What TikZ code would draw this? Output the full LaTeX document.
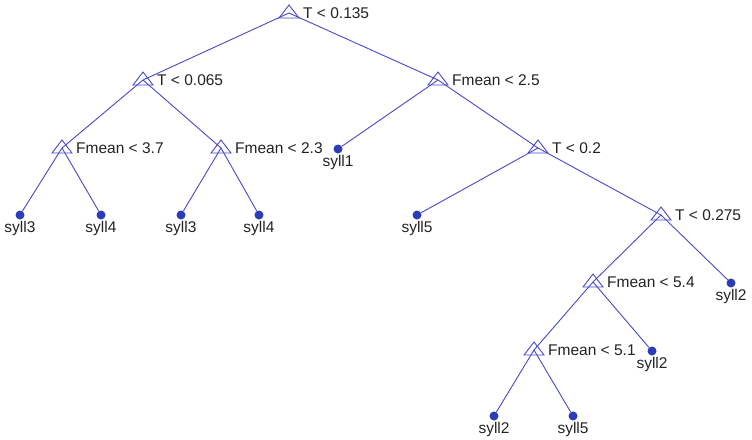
\documentclass[tikz,border=0pt]{standalone}
\usepackage{fontspec}
\setmainfont{Liberation Sans}
\definecolor{treeblue}{RGB}{72,72,200}
\definecolor{dotblue}{RGB}{45,60,185}
\definecolor{lbltext}{RGB}{35,35,35}
\begin{document}
\begin{tikzpicture}[x=1pt,y=-1pt,
    font=\fontsize{15.5}{17}\selectfont,
    split/.style={coordinate},
    leaf/.style={circle,fill=dotblue,minimum size=9pt,inner sep=0pt},
    lbl/.style={text=lbltext,inner sep=0pt},
    edge/.style={treeblue,line width=0.9pt},
    tri/.style={treeblue,line width=0.9pt}]
        \useasboundingbox (0,0) rectangle (752,439);

        % Split nodes
        \node[split,label={[lbl,label distance=14pt]right:T < 0.135}] (r) at (289,13) {};
        \node[split,label={[lbl,label distance=14pt]right:T < 0.065}] (a) at (143,80) {};
        \node[split,label={[lbl,label distance=14pt]right:Fmean < 2.5}] (b) at (438,80) {};
        \node[split,label={[lbl,label distance=14pt]right:Fmean < 3.7}] (c) at (62,148) {};
        \node[split,label={[lbl,label distance=14pt]right:Fmean < 2.3}] (d) at (221,148) {};
        \node[split,label={[lbl,label distance=14pt]right:T < 0.2}] (e) at (538,148) {};
        \node[split,label={[lbl,label distance=14pt]right:T < 0.275}] (f) at (661,215) {};
        \node[split,label={[lbl,label distance=14pt]right:Fmean < 5.4}] (g) at (593,282) {};
        \node[split,label={[lbl,label distance=14pt]right:Fmean < 5.1}] (h) at (534,350) {};

        % Leaves
        \node[leaf,label={[lbl,label distance=1pt]below:syll3}] (l1) at (20,215) {};
        \node[leaf,label={[lbl,label distance=1pt]below:syll4}] (l2) at (101,215) {};
        \node[leaf,label={[lbl,label distance=1pt]below:syll3}] (l3) at (181,215) {};
        \node[leaf,label={[lbl,label distance=1pt]below:syll4}] (l4) at (259,215) {};
        \node[leaf,label={[lbl,label distance=1pt]below:syll1}] (l5) at (338,149) {};
        \node[leaf,label={[lbl,label distance=1pt]below:syll5}] (l6) at (417,215) {};
        \node[leaf,label={[lbl,label distance=1pt]below:syll2}] (l7) at (731,283) {};
        \node[leaf,label={[lbl,label distance=1pt]below:syll2}] (l8) at (652,351) {};
        \node[leaf,label={[lbl,label distance=1pt]below:syll2}] (l9) at (494,416) {};
        \node[leaf,label={[lbl,label distance=1pt]below:syll5}] (l10) at (573,416) {};

        % Branches
        \draw[edge] (r) -- (a);
        \draw[edge] (r) -- (b);
        \draw[edge] (a) -- (c);
        \draw[edge] (a) -- (d);
        \draw[edge] (c) -- (l1);
        \draw[edge] (c) -- (l2);
        \draw[edge] (d) -- (l3);
        \draw[edge] (d) -- (l4);
        \draw[edge] (b) -- (l5);
        \draw[edge] (b) -- (e);
        \draw[edge] (e) -- (l6);
        \draw[edge] (e) -- (f);
        \draw[edge] (f) -- (g);
        \draw[edge] (f) -- (l7);
        \draw[edge] (g) -- (h);
        \draw[edge] (g) -- (l8);
        \draw[edge] (h) -- (l9);
        \draw[edge] (h) -- (l10);

        % Triangle markers
        \foreach \n in {r,a,b,c,d,e,f,g,h}
            \draw[tri] (\n) ++(0,-8) -- ++(10,13) -- ++(-20,0) -- cycle;
\end{tikzpicture}
\end{document}
